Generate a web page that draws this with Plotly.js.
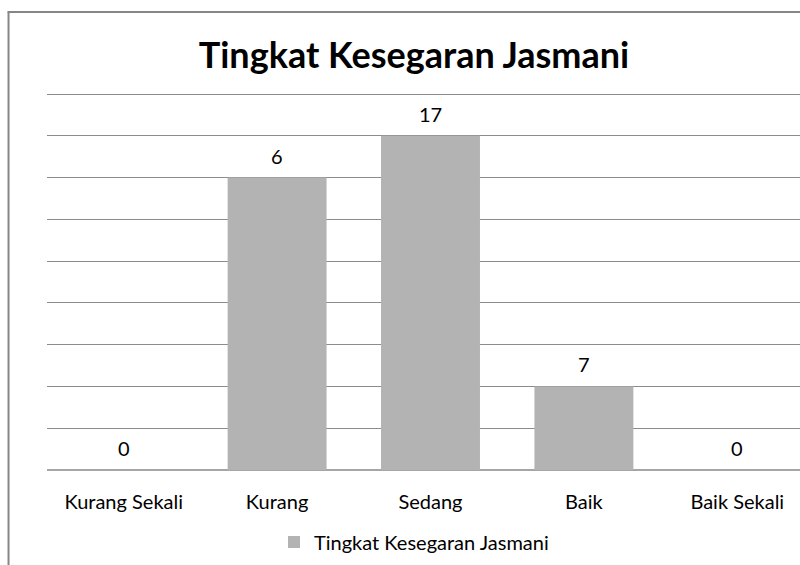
<!DOCTYPE html>
<html>
<head>
<meta charset="utf-8">
<script src="https://cdn.plot.ly/plotly-3.0.1.min.js"></script>
<style>html,body{margin:0;padding:0;background:#fff;}#chart{width:800px;height:565px;}</style>
</head>
<body>
<div id="chart"></div>
<script>
var categories = ["Kurang Sekali", "Kurang", "Sedang", "Baik", "Baik Sekali"];
// bar heights as drawn in the picture (grid units)
var barHeights = [0, 7, 8, 2, 0];
// data labels as printed on the picture
var valueLabels = ["0", "6", "17", "7", "0"];
var seriesName = "Tingkat Kesegaran Jasmani";
var yTicks = [0, 1, 2, 3, 4, 5, 6, 7, 8, 9];
var yMax = 9;

var FONT = "Lato, 'Open Sans', sans-serif";

var trace = {
  type: "bar",
  x: categories,
  y: barHeights,
  name: seriesName,
  marker: {color: "#b3b3b3", line: {width: 0}},
  showlegend: true,
  hoverinfo: "x+y"
};

var annotations = categories.map(function (c, i) {
  return {
    x: c, y: barHeights[i], xref: "x", yref: "y",
    text: valueLabels[i], showarrow: false,
    yanchor: "bottom", yshift: 8,
    font: {family: FONT, size: 20, color: "#000"}
  };
});

var L = 46.5, R = 800, T = 92, B = 470;
var pw = R - L, ph = B - T;
function px(x) { return (x - L) / pw; }
function py(y) { return (B - y) / ph; }

var shapes = [
  {type: "line", xref: "paper", yref: "paper", x0: px(8), x1: px(8), y0: py(12), y1: py(570),
   line: {color: "#868686", width: 2}},
  {type: "line", xref: "paper", yref: "paper", x0: px(7), x1: px(805), y0: py(12), y1: py(12),
   line: {color: "#868686", width: 2}}
];

var layout = {
  width: 800, height: 565,
  margin: {l: L, r: 800 - R, t: T, b: 565 - B, pad: 0},
  paper_bgcolor: "#fff", plot_bgcolor: "#fff",
  font: {family: FONT, color: "#000"},
  title: {
    text: "<b>Tingkat Kesegaran Jasmani</b>",
    font: {family: FONT, size: 36, color: "#000"},
    x: 414 / 800, xanchor: "center", xref: "container",
    y: 1 - 55 / 565, yanchor: "middle", yref: "container"
  },
  bargap: 0.355,
  xaxis: {
    type: "category",
    range: [-0.5, -0.5 + pw / 153.5],
    showgrid: false, zeroline: false, showline: false,
    ticks: "", ticklen: 0,
    ticklabelstandoff: 18,
    tickfont: {family: FONT, size: 20, color: "#000"},
    fixedrange: true
  },
  yaxis: {
    range: [0, yMax * ph / 376],
    tickvals: yTicks,
    showticklabels: false,
    showgrid: true, gridcolor: "#8c8c8c", gridwidth: 1,
    zeroline: true, zerolinecolor: "#a6a6a6", zerolinewidth: 2,
    showline: false, ticks: "",
    fixedrange: true
  },
  showlegend: true,
  legend: {
    orientation: "h", x: 274 / 800, xanchor: "left", xref: "container",
    y: 1 - 542 / 565, yanchor: "middle", yref: "container",
    font: {family: FONT, size: 20, color: "#000"},
    itemwidth: 30
  },
  annotations: annotations,
  shapes: shapes
};

Plotly.newPlot("chart", [trace], layout, {displayModeBar: false, staticPlot: true});
</script>
</body>
</html>
